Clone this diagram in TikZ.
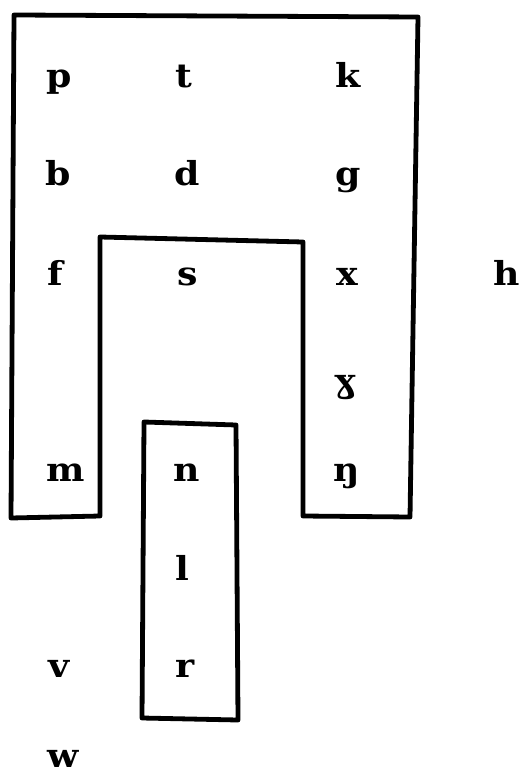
\documentclass[tikz,border=0pt]{standalone}
\usepackage{fontspec}
\setmainfont{DejaVu Serif}
\tikzset{
  phon/.style={font=\fontsize{33}{33}\selectfont\bfseries, inner sep=0pt,
    anchor=base, xscale=1.1},
  frame/.style={line width=4.8pt, line join=round, line cap=round},
}
\begin{document}
\begin{tikzpicture}[x=1pt,y=-1pt]
\useasboundingbox (0,0) rectangle (521,775);
% outer U-shaped frame
\draw[frame] (14,15) -- (418,17) -- (410,517) -- (303,516) -- (303,242)
  -- (100,237) -- (100,516) -- (11,518) -- cycle;
% inner column
\draw[frame] (144,422) -- (236,425) -- (238,720) -- (142,718) -- cycle;
% phoneme letters, one row every 98pt
\node[phon] (p) at (59,88) {p};
\node[phon] (t) at (184,88) {t};
\node[phon] (k) at (348,88) {k};
\node[phon] (b) at (58,186) {b};
\node[phon] (d) at (187,186) {d};
\node[phon] (g) at (348,186) {g};
\node[phon] (f) at (55,285) {f};
\node[phon] (s) at (188,285) {s};
\node[phon] (x) at (347,285) {x};
\node[phon] (h) at (507,285) {h};
\node[phon] (gam) at (345,392) {ɣ};
\node[phon] (m) at (66,481) {m};
\node[phon] (n) at (187,481) {n};
\node[phon] (eng) at (347,481) {ŋ};
\node[phon] (l) at (182,580) {l};
\node[phon] (v) at (59,677) {v};
\node[phon] (r) at (185,677) {r};
\node[phon] (w) at (63,767) {w};
\end{tikzpicture}
\end{document}
